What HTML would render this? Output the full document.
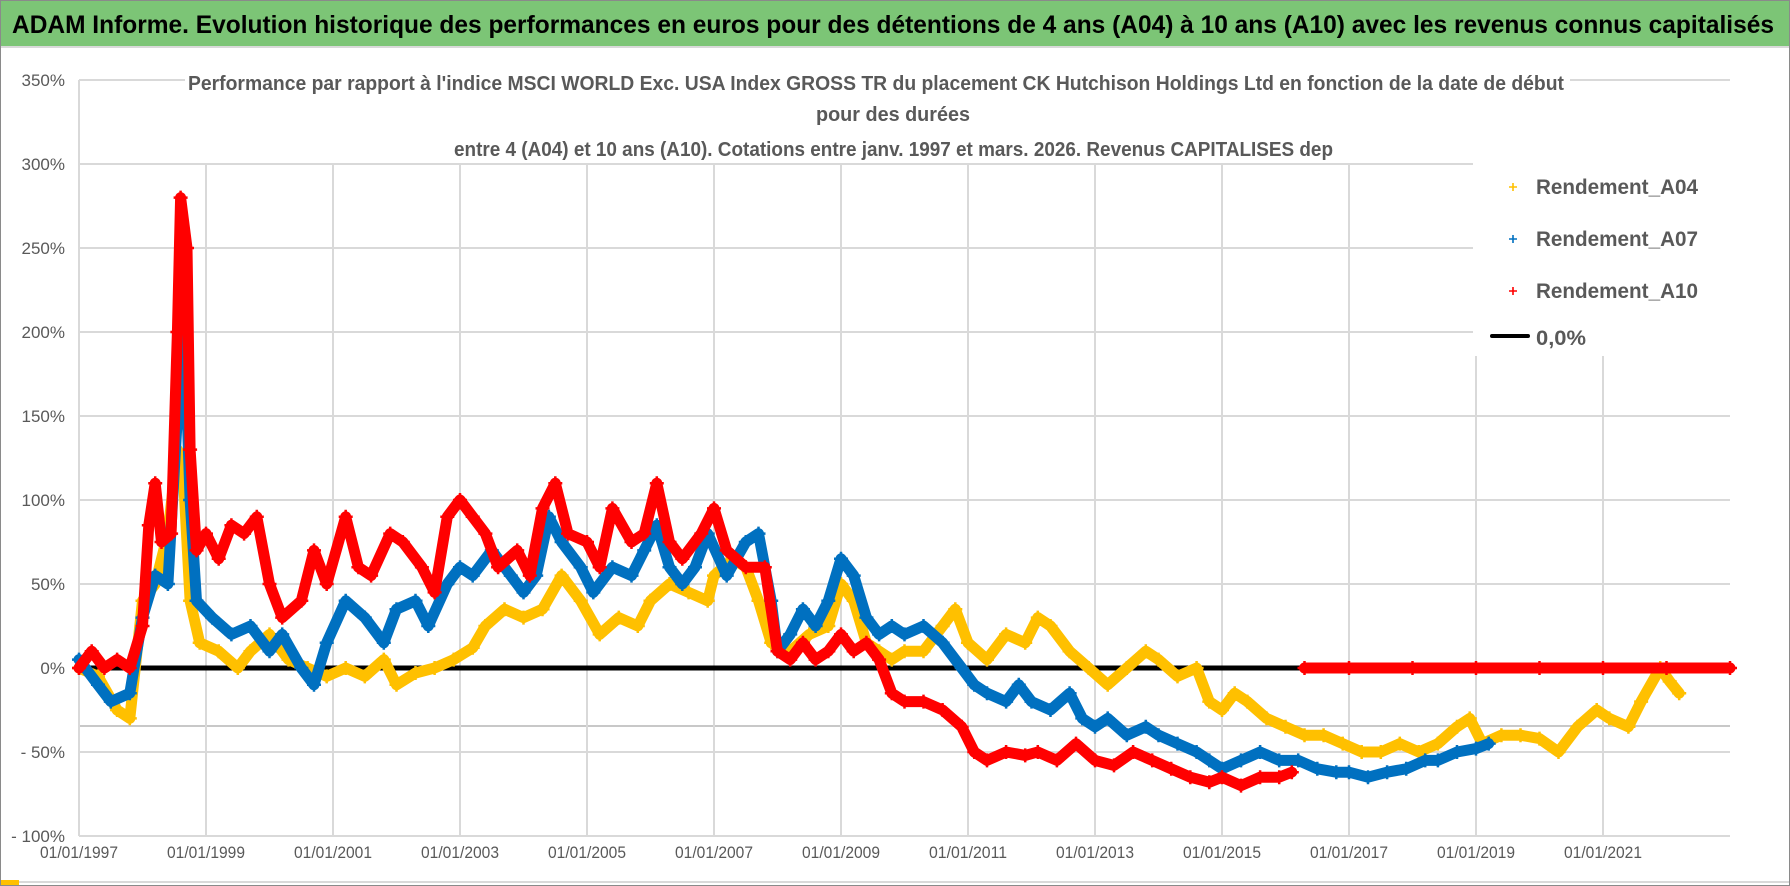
<!DOCTYPE html>
<html><head><meta charset="utf-8"><style>
html,body{margin:0;padding:0;background:#fff;}
svg{display:block;font-family:"Liberation Sans",sans-serif;}
</style></head><body>
<svg id="chart" width="1790" height="886" viewBox="0 0 1790 886" xmlns="http://www.w3.org/2000/svg">
<rect x="0" y="0" width="1790" height="886" fill="#fff"/>
<rect x="0" y="0" width="1790" height="46" fill="#7cc576"/>
<text x="12" y="33" font-size="25" font-weight="bold" fill="#000" textLength="1762" lengthAdjust="spacingAndGlyphs">ADAM Informe. Evolution historique des performances en euros pour des détentions de 4 ans (A04) à 10 ans (A10) avec les revenus connus capitalisés</text>
<line x1="0" y1="47" x2="1790" y2="47" stroke="#d9d9d9" stroke-width="2"/>
<g id="grid"></g>
<g id="axes"></g>
<g id="series"></g>
<rect x="185" y="62" width="1385" height="100" fill="#fff"/>
<g font-weight="bold" fill="#595959" font-size="20">
<text x="188" y="90" textLength="1376" lengthAdjust="spacingAndGlyphs">Performance par rapport à l'indice MSCI WORLD Exc. USA Index GROSS TR  du placement CK Hutchison Holdings Ltd en fonction de la date de début</text>
<text x="816" y="121" textLength="154" lengthAdjust="spacingAndGlyphs">pour des durées</text>
<text x="454" y="156" textLength="879" lengthAdjust="spacingAndGlyphs">entre 4 (A04) et 10 ans (A10). Cotations entre janv. 1997 et mars. 2026. Revenus CAPITALISES dep</text>
</g>
<rect x="1473" y="160" width="268" height="196" fill="#fff"/>
<g font-weight="bold" fill="#595959" font-size="21">
<g><path d="M1509 187h8M1513 183v8" stroke="#ffc000" stroke-width="1.6"/><text x="1536" y="194" textLength="162" lengthAdjust="spacingAndGlyphs">Rendement_A04</text></g>
<g><path d="M1509 239h8M1513 235v8" stroke="#0070c0" stroke-width="1.6"/><text x="1536" y="246" textLength="162" lengthAdjust="spacingAndGlyphs">Rendement_A07</text></g>
<g><path d="M1509 291h8M1513 287v8" stroke="#ff0000" stroke-width="1.6"/><text x="1536" y="298" textLength="162" lengthAdjust="spacingAndGlyphs">Rendement_A10</text></g>
<g><line x1="1492" y1="336" x2="1528" y2="336" stroke="#000" stroke-width="4" stroke-linecap="round"/><text x="1536" y="345" textLength="50" lengthAdjust="spacingAndGlyphs">0,0%</text></g>
</g>
<line x1="0" y1="882" x2="1790" y2="882" stroke="#d9d9d9" stroke-width="2"/>
<rect x="0" y="0" width="1790" height="886" fill="none" stroke="#8a8a8a" stroke-width="2"/>
<rect x="1" y="880" width="18" height="5" fill="#ffc000"/>
</svg>
<script>
const yTicks = [350,300,250,200,150,100,50,0,-50,-100];
const yTickLabels = ["350%","300%","250%","200%","150%","100%","50%","0%","- 50%","- 100%"];
const xTicks = [1997,1999,2001,2003,2005,2007,2009,2011,2013,2015,2017,2019,2021];
const xTickLabels = ["01/01/1997","01/01/1999","01/01/2001","01/01/2003","01/01/2005","01/01/2007","01/01/2009","01/01/2011","01/01/2013","01/01/2015","01/01/2017","01/01/2019","01/01/2021"];
const a04Dates = [1997.0,1997.3,1997.6,1997.8,1998.0,1998.2,1998.4,1998.55,1998.65,1998.75,1998.9,1999.2,1999.5,1999.7,2000.0,2000.3,2000.6,2000.9,2001.2,2001.5,2001.8,2002.0,2002.3,2002.6,2002.9,2003.2,2003.4,2003.7,2004.0,2004.3,2004.6,2004.9,2005.2,2005.5,2005.8,2006.0,2006.3,2006.6,2006.9,2007.0,2007.3,2007.5,2007.7,2007.9,2008.2,2008.5,2008.8,2009.0,2009.2,2009.4,2009.6,2009.8,2010.0,2010.3,2010.6,2010.8,2011.0,2011.3,2011.6,2011.9,2012.1,2012.3,2012.6,2012.9,2013.2,2013.5,2013.8,2014.0,2014.3,2014.6,2014.8,2015.0,2015.2,2015.4,2015.7,2016.0,2016.3,2016.6,2016.9,2017.2,2017.5,2017.8,2018.1,2018.4,2018.7,2018.9,2019.1,2019.4,2019.7,2020.0,2020.3,2020.6,2020.9,2021.1,2021.4,2021.6,2021.9,2022.05,2022.2];
const a04Values = [0,-5,-25,-30,40,50,80,130,110,40,15,10,0,10,20,5,0,-5,0,-5,5,-10,-3,0,5,12,25,35,30,35,55,40,20,30,25,40,50,45,40,55,65,60,40,15,10,20,25,50,40,15,10,5,10,10,25,35,15,5,20,15,30,25,10,0,-10,0,10,5,-5,0,-20,-25,-15,-20,-30,-35,-40,-40,-45,-50,-50,-45,-50,-45,-35,-30,-45,-40,-40,-42,-50,-35,-25,-30,-35,-20,0,-8,-15];
const a07Dates = [1997.0,1997.3,1997.5,1997.8,1998.0,1998.2,1998.4,1998.55,1998.65,1998.75,1998.85,1999.1,1999.4,1999.7,2000.0,2000.2,2000.5,2000.7,2000.9,2001.2,2001.5,2001.8,2002.0,2002.3,2002.5,2002.8,2003.0,2003.2,2003.5,2003.8,2004.0,2004.2,2004.4,2004.6,2004.9,2005.1,2005.4,2005.7,2005.9,2006.1,2006.3,2006.5,2006.7,2006.9,2007.2,2007.5,2007.7,2007.9,2008.0,2008.2,2008.4,2008.6,2008.8,2009.0,2009.2,2009.4,2009.6,2009.8,2010.0,2010.3,2010.6,2010.9,2011.1,2011.3,2011.6,2011.8,2012.0,2012.3,2012.6,2012.8,2013.0,2013.2,2013.5,2013.8,2014.0,2014.3,2014.6,2014.8,2015.0,2015.3,2015.6,2015.9,2016.2,2016.5,2016.8,2017.0,2017.3,2017.6,2017.9,2018.2,2018.4,2018.7,2019.0,2019.2];
const a07Values = [5,-10,-20,-15,30,55,50,150,210,100,40,30,20,25,10,20,0,-10,15,40,30,15,35,40,25,50,60,55,70,55,45,55,90,75,60,45,60,55,70,85,60,50,60,80,55,75,80,40,10,20,35,25,40,65,55,30,20,25,20,25,15,0,-10,-15,-20,-10,-20,-25,-15,-30,-35,-30,-40,-35,-40,-45,-50,-55,-60,-55,-50,-55,-55,-60,-62,-62,-65,-62,-60,-55,-55,-50,-48,-45];
const a10Dates = [1997.0,1997.2,1997.4,1997.6,1997.8,1998.0,1998.1,1998.2,1998.3,1998.45,1998.55,1998.6,1998.7,1998.75,1998.85,1999.0,1999.2,1999.4,1999.6,1999.8,2000.0,2000.2,2000.5,2000.7,2000.9,2001.2,2001.4,2001.6,2001.9,2002.1,2002.4,2002.6,2002.8,2003.0,2003.2,2003.4,2003.6,2003.9,2004.1,2004.3,2004.5,2004.7,2005.0,2005.2,2005.4,2005.7,2005.9,2006.1,2006.3,2006.5,2006.8,2007.0,2007.2,2007.5,2007.8,2008.0,2008.2,2008.4,2008.6,2008.8,2009.0,2009.2,2009.4,2009.6,2009.8,2010.0,2010.3,2010.6,2010.9,2011.1,2011.3,2011.6,2011.9,2012.1,2012.4,2012.7,2013.0,2013.3,2013.6,2013.9,2014.2,2014.5,2014.8,2015.0,2015.3,2015.6,2015.9,2016.1,2016.3,2017.0,2018.0,2019.0,2020.0,2021.0,2022.0,2023.0];
const a10Values = [0,10,0,5,0,25,85,110,75,80,200,280,250,130,70,80,65,85,80,90,50,30,40,70,50,90,60,55,80,75,60,45,90,100,90,80,60,70,55,95,110,80,75,60,95,75,80,110,75,65,80,95,70,60,60,10,5,15,5,10,20,10,15,5,-15,-20,-20,-25,-35,-50,-55,-50,-52,-50,-55,-45,-55,-58,-50,-55,-60,-65,-68,-65,-70,-65,-65,-62,0,0,0,0,0,0,0,0];

const NS = "http://www.w3.org/2000/svg";
const X0 = 79, PX_PER_YEAR = 63.5, Y0 = 668, PX_PER_PCT = 1.68;
const xScale = d => X0 + (d - 1997) * PX_PER_YEAR;
const yScale = v => Y0 - v * PX_PER_PCT;
const plotRight = xScale(2023);

const grid = document.getElementById('grid');
const axes = document.getElementById('axes');
yTicks.forEach((t, i) => {
  const l = document.createElementNS(NS, 'line');
  
  
  l.setAttribute('x1', X0); l.setAttribute('x2', plotRight);
  l.setAttribute('y1', yScale(t)); l.setAttribute('y2', yScale(t));
  l.setAttribute('stroke', '#d9d9d9'); l.setAttribute('stroke-width', '2');
  grid.appendChild(l);
  const tx = document.createElementNS(NS, 'text');
  
  
  tx.setAttribute('x', 65); tx.setAttribute('y', yScale(t) + 6);
  tx.setAttribute('text-anchor', 'end'); tx.setAttribute('font-size', '17');
  tx.setAttribute('fill', '#595959');
  tx.textContent = yTickLabels[i];
  axes.appendChild(tx);
});
const extra = document.createElementNS(NS, 'line');


extra.setAttribute('x1', X0); extra.setAttribute('x2', plotRight);
extra.setAttribute('y1', 726); extra.setAttribute('y2', 726);
extra.setAttribute('stroke', '#c8c8c8'); extra.setAttribute('stroke-width', '2');
grid.appendChild(extra);
xTicks.forEach((t, i) => {
  const l = document.createElementNS(NS, 'line');
  
  
  l.setAttribute('x1', xScale(t)); l.setAttribute('x2', xScale(t));
  l.setAttribute('y1', i === 0 ? yScale(350) : yScale(300)); l.setAttribute('y2', yScale(-100));
  l.setAttribute('stroke', '#d9d9d9'); l.setAttribute('stroke-width', '2');
  grid.appendChild(l);
  const tx = document.createElementNS(NS, 'text');
  
  
  tx.setAttribute('x', xScale(t)); tx.setAttribute('y', 858);
  tx.setAttribute('text-anchor', 'middle'); tx.setAttribute('font-size', '17');
  tx.setAttribute('fill', '#595959');
  tx.setAttribute('textLength', '78'); tx.setAttribute('lengthAdjust', 'spacingAndGlyphs');
  tx.textContent = xTickLabels[i];
  axes.appendChild(tx);
});
const zero = document.createElementNS(NS, 'line');


zero.setAttribute('x1', X0); zero.setAttribute('x2', plotRight);
zero.setAttribute('y1', yScale(0)); zero.setAttribute('y2', yScale(0));
zero.setAttribute('stroke', '#000'); zero.setAttribute('stroke-width', '5');
document.getElementById('series').appendChild(zero);

function drawSeries(name, dates, values, color) {
  const g = document.createElementNS(NS, 'g');
  
  
  let d = '';
  for (let i = 0; i < dates.length; i++) {
    const x = xScale(dates[i]), y = yScale(values[i]);
    const jump = i > 0 && Math.abs(values[i] - values[i-1]) > 40 && dates[i] - dates[i-1] < 0.3 && values[i] === 0;
    d += (i === 0 || jump ? 'M' : 'L') + x.toFixed(1) + ' ' + y.toFixed(1) + ' ';
  }
  const p = document.createElementNS(NS, 'path');
  
  
  p.setAttribute('d', d); p.setAttribute('fill', 'none');
  p.setAttribute('stroke', color); p.setAttribute('stroke-width', '11');
  p.setAttribute('stroke-linejoin', 'round'); p.setAttribute('stroke-linecap', 'round');
  g.appendChild(p);
  let m = '';
  for (let i = 0; i < dates.length; i++) {
    const x = xScale(dates[i]), y = yScale(values[i]);
    m += 'M' + (x-7).toFixed(1) + ' ' + y.toFixed(1) + 'h14M' + x.toFixed(1) + ' ' + (y-7).toFixed(1) + 'v14';
  }
  const mk = document.createElementNS(NS, 'path');
  
  
  mk.setAttribute('d', m); mk.setAttribute('stroke', color); mk.setAttribute('stroke-width', '2.5');
  g.appendChild(mk);
  document.getElementById('series').appendChild(g);
}
drawSeries('series-a04', a04Dates, a04Values, '#ffc000');
drawSeries('series-a07', a07Dates, a07Values, '#0070c0');
drawSeries('series-a10', a10Dates, a10Values, '#ff0000');
</script>
</body></html>
